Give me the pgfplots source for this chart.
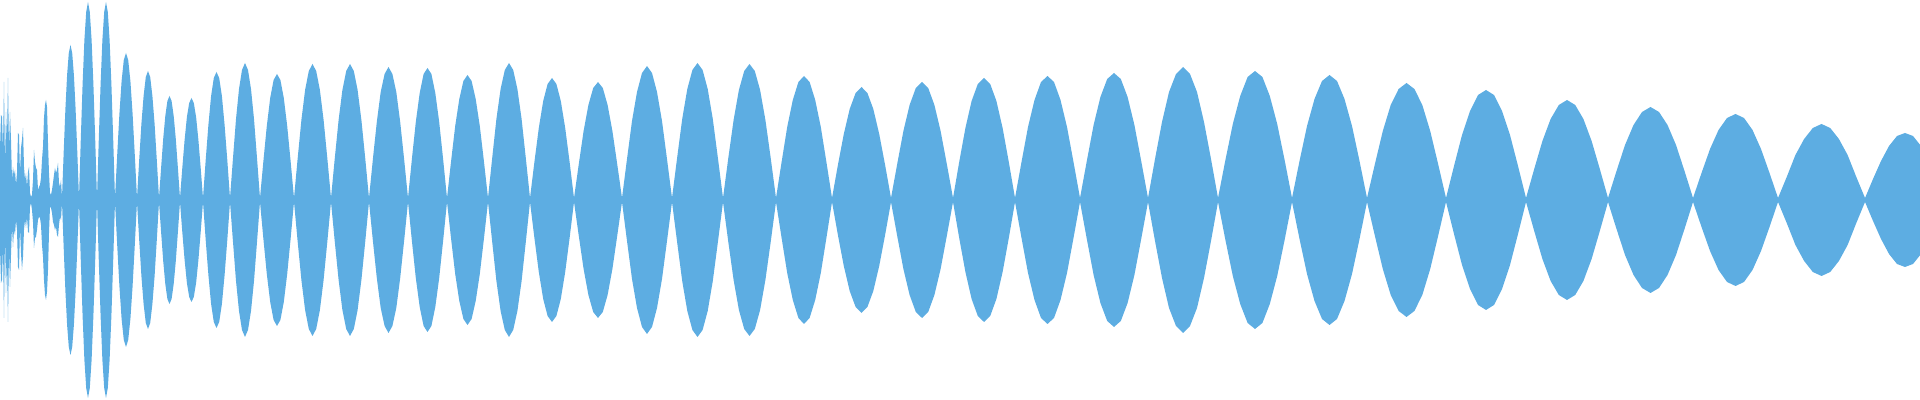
\documentclass[border=0pt]{standalone}
\usepackage{pgfplots}
\usepackage{pgfplotstable}
\pgfplotsset{compat=1.18}
\usepgfplotslibrary{fillbetween}
\definecolor{wave}{HTML}{5DADE2}
\pgfplotstableread{
x up lo
0 50 -47
1 85 -83
2 83 -80
3 50 -47
4 118 -118
5 33 -33
6 88 -93
7 60 -60
8 122 -122
9 50 -50
10 88 -87
11 60 -55
12 20 -27
13 33 -47
14 25 -30
15 30 -35
16 15 -20
17 27 -30
18 67 -67
19 65 -70
20 27 -27
21 52 -53
22 60 -70
23 72 -57
24 33 -30
25 20 -20
26 27 -28
27 13 -17
28 28 -32
29 33 -33
30 7 -7
31 3 -3
32 5 -10
33 20 -22
34 50 -48
35 38 -38
36 32 -37
37 30 -30
38 10 -20
39 13 -17
40 15 -18
41 22 -25
42 40 -45
43 53 -57
44 82 -80
45 95 -95
46 100 -100
47 93 -92
48 57 -70
49 27 -33
50 7 -7
51 5 -8
52 10 -13
53 17 -22
54 25 -25
55 32 -30
56 27 -27
57 30 -35
58 37 -37
59 17 -25
60 13 -17
61 20 -20
62 2 -2
63.7 48 -48
65.4 91 -91
67.1 125 -125
68.8 147 -147
70.5 155 -155
72.2 147 -147
73.9 125 -125
75.6 91 -91
77.3 48 -48
79 2 -2
80.8 61 -61
82.6 116 -116
84.4 160 -160
86.2 188 -188
88 198 -198
89.8 188 -188
91.6 160 -160
93.4 116 -116
95.2 61 -61
97 2 -2
98.8 61 -61
100.6 116 -116
102.4 160 -160
104.2 188 -188
106 198 -198
107.8 188 -188
109.6 160 -160
111.4 116 -116
113.2 61 -61
115 2 -2
117.2 45 -45
119.4 86 -86
121.6 119 -119
123.8 140 -140
126 147 -147
128.2 140 -140
130.4 119 -119
132.6 86 -86
134.8 45 -45
137 2 -2
139.2 40 -40
141.4 76 -76
143.6 104 -104
145.8 123 -123
148 129 -129
150.2 123 -123
152.4 104 -104
154.6 76 -76
156.8 40 -40
159 2 -2
161.1 32 -32
163.2 61 -61
165.3 84 -84
167.4 99 -99
169.5 104 -104
171.6 99 -99
173.7 84 -84
175.8 61 -61
177.9 32 -32
180 2 -2
182.3 32 -32
184.6 60 -60
186.9 83 -83
189.2 97 -97
191.5 102 -102
193.8 97 -97
196.1 83 -83
198.4 60 -60
200.7 32 -32
203 2 -2
205.7 40 -40
208.4 75 -75
211.1 104 -104
213.8 122 -122
216.5 128 -128
219.2 122 -122
221.9 104 -104
224.6 75 -75
227.3 40 -40
230 2 -2
233 42 -42
236 81 -81
239 111 -111
242 130 -130
245 137 -137
248 130 -130
251 111 -111
254 81 -81
257 42 -42
260 2 -2
263.4 39 -39
266.8 74 -74
270.2 102 -102
273.6 120 -120
277 126 -126
280.4 120 -120
283.8 102 -102
287.2 74 -74
290.6 39 -39
294 2 -2
297.7 42 -42
301.4 80 -80
305.1 110 -110
308.8 129 -129
312.5 136 -136
316.2 129 -129
319.9 110 -110
323.6 80 -80
327.3 42 -42
331 2 -2
334.8 42 -42
338.6 80 -80
342.4 110 -110
346.2 129 -129
350 136 -136
353.8 129 -129
357.6 110 -110
361.4 80 -80
365.2 42 -42
369 2 -2
372.9 41 -41
376.8 78 -78
380.7 108 -108
384.6 126 -126
388.5 133 -133
392.4 126 -126
396.3 108 -108
400.2 78 -78
404.1 41 -41
408 2 -2
411.9 41 -41
415.8 78 -78
419.7 107 -107
423.6 126 -126
427.5 132 -132
431.4 126 -126
435.3 107 -107
439.2 78 -78
443.1 41 -41
447 2 -2
451.1 39 -39
455.2 74 -74
459.3 101 -101
463.4 119 -119
467.5 125 -125
471.6 119 -119
475.7 101 -101
479.8 74 -74
483.9 39 -39
488 2 -2
492.2 42 -42
496.4 81 -81
500.6 111 -111
504.8 130 -130
509 137 -137
513.2 130 -130
517.4 111 -111
521.6 81 -81
525.8 42 -42
530 2 -2
534.4 38 -38
538.8 72 -72
543.2 99 -99
547.6 116 -116
552 122 -122
556.4 116 -116
560.8 99 -99
565.2 72 -72
569.6 38 -38
574 2 -2
578.8 36 -36
583.6 69 -69
588.4 95 -95
593.2 112 -112
598 118 -118
602.8 112 -112
607.6 95 -95
612.4 69 -69
617.2 36 -36
622 2 -2
627 41 -41
632 79 -79
637 108 -108
642 127 -127
647 134 -134
652 127 -127
657 108 -108
662 79 -79
667 41 -41
672 2 -2
677.1 42 -42
682.2 81 -81
687.3 111 -111
692.4 130 -130
697.5 137 -137
702.6 130 -130
707.7 111 -111
712.8 81 -81
717.9 42 -42
723 2 -2
728.3 42 -42
733.6 80 -80
738.9 110 -110
744.2 129 -129
749.5 136 -136
754.8 129 -129
760.1 110 -110
765.4 80 -80
770.7 42 -42
776 2 -2
781.6 38 -38
787.2 73 -73
792.8 100 -100
798.4 118 -118
804 124 -124
809.6 118 -118
815.2 100 -100
820.8 73 -73
826.4 38 -38
832 2 -2
837.9 35 -35
843.8 66 -66
849.7 91 -91
855.6 107 -107
861.5 113 -113
867.4 107 -107
873.3 91 -91
879.2 66 -66
885.1 35 -35
891 2 -2
897.2 36 -36
903.4 69 -69
909.6 95 -95
915.8 112 -112
922 118 -118
928.2 112 -112
934.4 95 -95
940.6 69 -69
946.8 36 -36
953 2 -2
959.2 38 -38
965.4 72 -72
971.6 99 -99
977.8 116 -116
984 122 -122
990.2 116 -116
996.4 99 -99
1002.6 72 -72
1008.8 38 -38
1015 2 -2
1021.5 38 -38
1028 73 -73
1034.5 100 -100
1041 118 -118
1047.5 124 -124
1054 118 -118
1060.5 100 -100
1067 73 -73
1073.5 38 -38
1080 2 -2
1086.8 39 -39
1093.6 75 -75
1100.4 103 -103
1107.2 121 -121
1114 127 -127
1120.8 121 -121
1127.6 103 -103
1134.4 75 -75
1141.2 39 -39
1148 2 -2
1155 41 -41
1162 78 -78
1169 108 -108
1176 126 -126
1183 133 -133
1190 126 -126
1197 108 -108
1204 78 -78
1211 41 -41
1218 2 -2
1225.4 40 -40
1232.8 76 -76
1240.2 104 -104
1247.6 123 -123
1255 129 -129
1262.4 123 -123
1269.8 104 -104
1277.2 76 -76
1284.6 40 -40
1292 2 -2
1299.5 39 -39
1307 74 -74
1314.5 101 -101
1322 119 -119
1329.5 125 -125
1337 119 -119
1344.5 101 -101
1352 74 -74
1359.5 39 -39
1367 2 -2
1374.9 36 -36
1382.8 69 -69
1390.7 95 -95
1398.6 111 -111
1406.5 117 -117
1414.4 111 -111
1422.3 95 -95
1430.2 69 -69
1438.1 36 -36
1446 2 -2
1454 34 -34
1462 65 -65
1470 89 -89
1478 105 -105
1486 110 -110
1494 105 -105
1502 89 -89
1510 65 -65
1518 34 -34
1526 2 -2
1534.2 31 -31
1542.4 59 -59
1550.6 81 -81
1558.8 95 -95
1567 100 -100
1575.2 95 -95
1583.4 81 -81
1591.6 59 -59
1599.8 31 -31
1608 2 -2
1616.5 29 -29
1625 55 -55
1633.5 75 -75
1642 88 -88
1650.5 93 -93
1659 88 -88
1667.5 75 -75
1676 55 -55
1684.5 29 -29
1693 2 -2
1701.5 27 -27
1710 51 -51
1718.5 70 -70
1727 82 -82
1735.5 86 -86
1744 82 -82
1752.5 70 -70
1761 51 -51
1769.5 27 -27
1778 2 -2
1786.7 23 -23
1795.4 45 -45
1804.1 61 -61
1812.8 72 -72
1821.5 76 -76
1830.2 72 -72
1838.9 61 -61
1847.6 45 -45
1856.3 23 -23
1865 2 -2
1873 21 -21
1881 39 -39
1889 54 -54
1897 64 -64
1905 67 -67
1913 64 -64
1921 54 -54
1929 39 -39
1937 21 -21
1945 2 -2
}\wavedata
\begin{document}
\begin{tikzpicture}
\begin{axis}[
  width=19.2cm, height=4cm, scale only axis,
  hide axis,
  xmin=0, xmax=1920, ymin=-200, ymax=200,
  clip=true,
]
\addplot[name path=up, draw=none, forget plot] table[x=x, y=up] {\wavedata};
\addplot[name path=lo, draw=none, forget plot] table[x=x, y=lo] {\wavedata};
\addplot[fill=wave, draw=none] fill between[of=up and lo];
\end{axis}
\pgfresetboundingbox
\path[use as bounding box] (current axis.south west) rectangle (current axis.north east);
\end{tikzpicture}
\end{document}
